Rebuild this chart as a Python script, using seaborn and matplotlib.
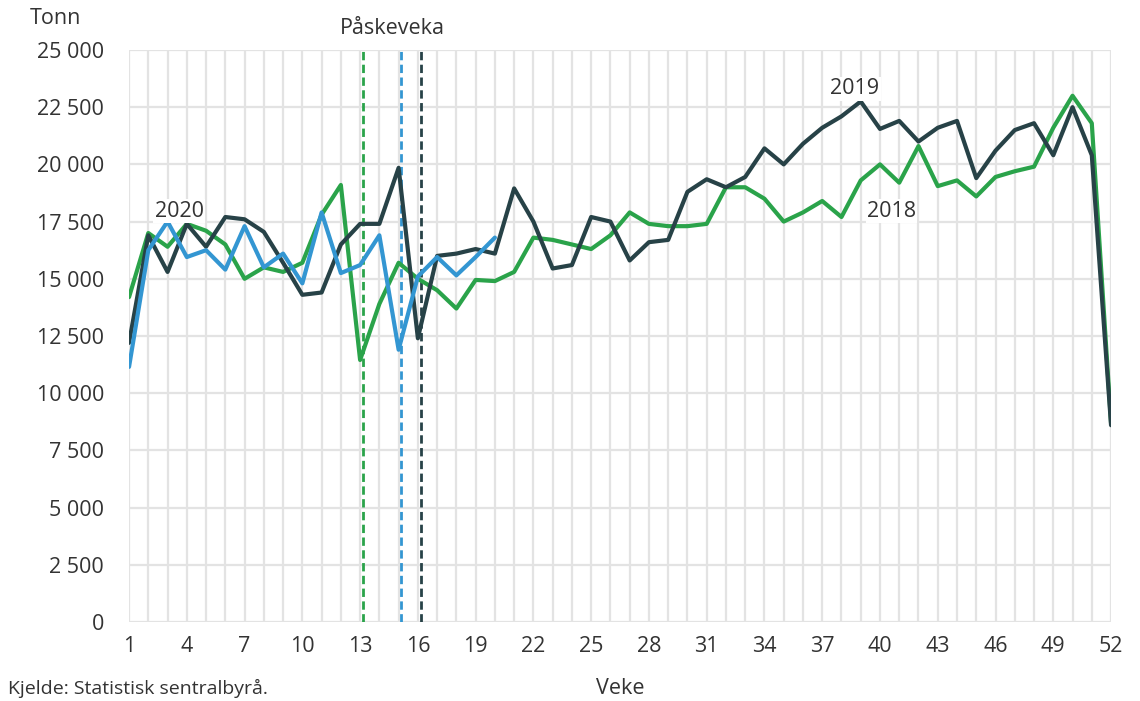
import numpy as np
import pandas as pd
import seaborn as sns
import matplotlib.pyplot as plt
from matplotlib.ticker import FuncFormatter

# Weekly volumes (tonn)
weeks = list(range(1, 53))
weeks_2020 = list(range(1, 21))

tonn_2018 = [14200, 17000, 16400, 17400, 17100, 16500, 15000, 15500, 15300, 15700,
             17800, 19100, 11450, 13900, 15700, 15000, 14500, 13700, 14950, 14900,
             15300, 16800, 16700, 16500, 16300, 16900, 17900, 17400, 17300, 17300,
             17400, 19000, 19000, 18500, 17500, 17900, 18400, 17700, 19300, 20000,
             19200, 20800, 19050, 19300, 18600, 19450, 19700, 19900, 21600, 23000,
             21800, 8700]

tonn_2019 = [12200, 16900, 15300, 17400, 16400, 17700, 17600, 17050, 15700, 14300,
             14400, 16500, 17400, 17400, 19850, 12400, 16000, 16100, 16300, 16100,
             18950, 17500, 15450, 15600, 17700, 17500, 15800, 16600, 16700, 18800,
             19350, 19000, 19450, 20700, 20000, 20900, 21600, 22100, 22750, 21550,
             21900, 21000, 21600, 21900, 19400, 20600, 21500, 21800, 20400, 22500,
             20400, 8600]

tonn_2020 = [11150, 16250, 17500, 15950, 16250, 15400, 17300, 15500, 16100, 14800,
             17900, 15250, 15600, 16900, 11900, 15100, 15950, 15150, 15950, 16800]

# Easter week markers (position within week)
easter_2018 = 13.15
easter_2020 = 15.1
easter_2019 = 16.15

col_2018 = "#2aa34a"
col_2019 = "#274247"
col_2020 = "#3396d2"
txt_col = "#333333"

df = pd.concat([
    pd.DataFrame({"Veke": weeks, "Tonn": tonn_2018, "År": "2018"}),
    pd.DataFrame({"Veke": weeks, "Tonn": tonn_2019, "År": "2019"}),
    pd.DataFrame({"Veke": weeks_2020, "Tonn": tonn_2020, "År": "2020"}),
])

sns.set_theme(style="white")
plt.rcParams['font.family'] = ['Open Sans', 'DejaVu Sans']

fig = plt.figure(figsize=(11.4, 7.01), dpi=100)
ax = fig.add_axes([0.1132, 0.1127, 0.8614, 0.816])

# grid first
for w in weeks:
    ax.axvline(w, color="#e3e3e3", lw=1.6, zorder=0)
for yv in np.arange(0, 25001, 2500):
    ax.axhline(yv, color="#e3e3e3", lw=1.6, zorder=0)

# Easter week dashed lines
ax.axvline(easter_2018, color=col_2018, lw=2, ls=(0, (3, 1.6)), zorder=1)
ax.axvline(easter_2020, color=col_2020, lw=2, ls=(0, (3, 1.6)), zorder=1)
ax.axvline(easter_2019, color=col_2019, lw=2, ls=(0, (3, 1.6)), zorder=1)

sns.lineplot(data=df, x="Veke", y="Tonn", hue="År",
             palette={"2018": col_2018, "2019": col_2019, "2020": col_2020},
             hue_order=["2018", "2019", "2020"],
             linewidth=3, legend=False, ax=ax, zorder=3)

ax.set_xlim(1, 52)
ax.set_ylim(0, 25000)
ax.set_xticks(list(range(1, 53, 3)))
ax.set_yticks(list(range(0, 25001, 2500)))
ax.yaxis.set_major_formatter(FuncFormatter(lambda v, p: "{:,}".format(int(v)).replace(",", " ")))
ax.tick_params(axis="both", labelsize=15.5, colors=txt_col, length=0)
ax.tick_params(axis="x", pad=10)
ax.tick_params(axis="y", pad=18)
for s in ax.spines.values():
    s.set_visible(False)
ax.set_xlabel("")
ax.set_ylabel("")

# labels on lines
ax.text(3.6, 17950, "2020", fontsize=15.5, color=txt_col, ha="center", va="center", zorder=4,
        bbox=dict(facecolor="white", edgecolor="none", pad=1))
ax.text(38.7, 23300, "2019", fontsize=15.5, color=txt_col, ha="center", va="center", zorder=4,
        bbox=dict(facecolor="white", edgecolor="none", pad=1))
ax.text(40.6, 17950, "2018", fontsize=15.5, color=txt_col, ha="center", va="center", zorder=4,
        bbox=dict(facecolor="white", edgecolor="none", pad=1))

fig.text(392 / 1140, 1 - 28 / 701, "Påskeveka", fontsize=15.5, color=txt_col, ha="center", va="center")
fig.text(30 / 1140, 1 - 19 / 701, "Tonn", fontsize=15.5, color=txt_col, ha="left", va="center")
fig.text(620 / 1140, 1 - 688 / 701, "Veke", fontsize=15.5, color=txt_col, ha="center", va="center")
fig.text(8 / 1140, 3 / 701, "Kjelde: Statistisk sentralbyrå.", fontsize=14, color=txt_col,
         ha="left", va="bottom")

fig.savefig("out.png", dpi=100)
